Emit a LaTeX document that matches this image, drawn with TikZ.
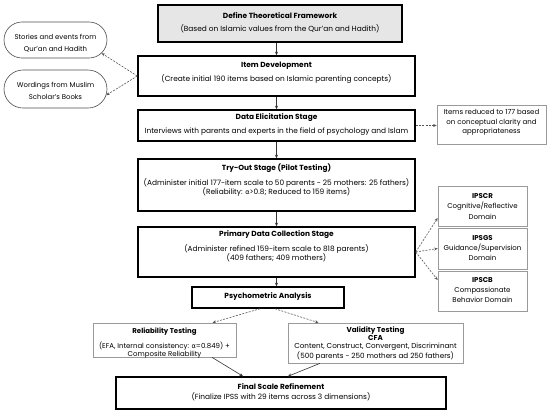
\documentclass[tikz,border=0pt]{standalone}
\usepackage{fontspec}
\setmainfont{Poppins}
\newfontfamily\grk{DejaVu Sans}
\usetikzlibrary{arrows.meta,shapes.misc}
\definecolor{boxgray}{HTML}{E6E6E6}
\definecolor{sidegray}{HTML}{9A9A9A}
\definecolor{dashgray}{HTML}{555555}
\newcommand{\alp}{{\grk\fontsize{6.6}{9}\selectfont α}}
\tikzset{
  mainbox/.style={draw=black, line width=1.5pt, inner sep=0pt},
  sidebox/.style={draw=sidegray, line width=0.7pt, inner sep=0pt},
  stadium/.style={rounded rectangle, draw=black!70, line width=0.6pt, inner sep=0pt},
  txt/.style={align=center, inner sep=0pt, text=black,
    font=\fontsize{7.4}{9}\selectfont},
  sidetxt/.style={txt, font=\fontsize{7.0}{9}\selectfont},
  solidarr/.style={draw=black!80, line width=0.6pt, -{Stealth[length=3.5pt,width=3pt]}},
  dasharr/.style={draw=dashgray, line width=0.6pt, dash pattern=on 2pt off 1.3pt,
    -{Stealth[length=3.5pt,width=3pt]}},
}
\begin{document}
\begin{tikzpicture}[x=1pt,y=-1pt]
\useasboundingbox (0,0) rectangle (550,413);
% boxes
\node[mainbox, line width=2pt, fill=boxgray, minimum width=244pt, minimum height=37pt] (b1) at (280,23.5) {};
\node[mainbox, minimum width=277pt, minimum height=40pt] (b2) at (276.5,76) {};
\node[mainbox, minimum width=277pt, minimum height=31pt] (b3) at (276.5,125.5) {};
\node[sidebox, minimum width=109pt, minimum height=39pt] (r1) at (491.5,124.5) {};
\node[mainbox, minimum width=277pt, minimum height=52pt] (b4) at (276.5,185) {};
\node[mainbox, minimum width=277pt, minimum height=50pt] (b5) at (276.5,252) {};
\node[sidebox, minimum width=89pt, minimum height=40pt] (cr) at (482.5,206) {};
\node[sidebox, minimum width=89pt, minimum height=41pt] (gs) at (482.5,248.5) {};
\node[sidebox, minimum width=89pt, minimum height=40pt] (cb) at (482.5,291) {};
\node[mainbox, minimum width=152pt, minimum height=21pt] (psy) at (268,297.5) {};
\node[sidebox, minimum width=143pt, minimum height=34pt] (rel) at (164.5,340) {};
\node[sidebox, minimum width=175pt, minimum height=40pt] (val) at (375.5,343) {};
\node[mainbox, minimum width=330pt, minimum height=32pt] (fin) at (281,393) {};
\node[stadium, minimum width=103pt, minimum height=36pt] (s1) at (55.5,40) {};
\node[stadium, minimum width=103pt, minimum height=38pt] (s2) at (55.5,89) {};
% texts
\node[txt] (t1) at (280,22.5) {\textbf{Define Theoretical Framework}\\[4pt](Based on Islamic values from the Qur'an and Hadith)};
\node[txt] (t2) at (276.5,73) {\textbf{Item Development}\\[5pt](Create initial 190 items based on Islamic parenting concepts)};
\node[txt] (t3) at (276.5,125) {\textbf{Data Elicitation Stage}\\[5pt]Interviews with parents and experts in the field of psychology and Islam};
\node[sidetxt, font=\fontsize{7.0}{9.5}\selectfont] (tr1) at (491.5,122.5) {Items reduced to 177 based\\on conceptual clarity and\\appropriateness};
\node[txt] (t4) at (276.5,180) {\textbf{Try-Out Stage (Pilot Testing)}\\[6pt](Administer initial 177-item scale to 50 parents - 25 mothers: 25 fathers)\\(Reliability: \alp>0.8; Reduced to 159 items)};
\node[txt] (t5) at (276.5,246.5) {\textbf{Primary Data Collection Stage}\\[6pt](Administer refined 159-item scale to 818 parents)\\(409 fathers; 409 mothers)};
\node[sidetxt, font=\fontsize{7.0}{10.5}\selectfont] (tcr) at (482.5,206.5) {\textbf{IPSCR}\\Cognitive/Reflective\\Domain};
\node[sidetxt, font=\fontsize{7.0}{10}\selectfont] (tgs) at (482.5,248) {\textbf{IPSGS}\\Guidance/Supervision\\Domain};
\node[sidetxt, font=\fontsize{7.0}{10}\selectfont] (tcb) at (482.5,290) {\textbf{IPSCB}\\Compassionate\\Behavior Domain};
\node[txt] (tpsy) at (268,297) {\textbf{Psychometric Analysis}};
\node[sidetxt, font=\fontsize{7.0}{7.5}\selectfont] (trel) at (164.5,343) {\textbf{Reliability Testing}\\[5.5pt](EFA, Internal consistency: \alp=0.849) +\\Composite Reliability};
\node[sidetxt, font=\fontsize{7.2}{8.3}\selectfont] (tval) at (375.5,343.5) {\textbf{Validity Testing}\\\textbf{CFA}\\Content, Construct, Convergent, Discriminant\\(500 parents - 250 mothers ad 250 fathers)};
\node[txt] (tfin) at (281,392) {\textbf{Final Scale Refinement}\\[1pt](Finalize IPSS with 29 items across 3 dimensions)};
\node[sidetxt, font=\fontsize{6.9}{12}\selectfont] (ts1) at (55.5,43) {Stories and events from\\Qur'an and Hadith};
\node[sidetxt, font=\fontsize{6.9}{12}\selectfont] (ts2) at (55.5,91) {Wordings from Muslim\\Scholar's Books};
% solid arrows
\draw[solidarr] (b2.north |- b1.south) -- (b2.north);
\draw[solidarr] (b2.south) -- (b3.north);
\draw[solidarr] (b3.south) -- (b4.north);
\draw[solidarr] (b4.south) -- (b5.north);
\draw[solidarr] (b5.south) -- (b5.south |- psy.north);
\draw[solidarr] ([xshift=47.5pt]rel.south) -- ([xshift=-38pt]fin.north);
\draw[solidarr] ([xshift=-55.5pt]val.south) -- ([xshift=7pt]fin.north);
% dashed arrows
\draw[dasharr] (b2.west) -- (s1.-16);
\draw[dasharr] (b2.west) -- (s2.-7);
\draw[dasharr] (b3.east) -- (r1.west |- b3.east);
\draw[dasharr] (b5.east) -- ([yshift=-12pt]cr.west);
\draw[dasharr] (b5.east) -- (gs.west);
\draw[dasharr] (b5.east) -- ([yshift=11pt]cb.west);
\draw[dasharr] ([xshift=-8pt]psy.south) -- ([xshift=48pt]rel.north);
\draw[dasharr] ([xshift=7pt]psy.south) -- ([xshift=-57pt]val.north);
\end{tikzpicture}
\end{document}
